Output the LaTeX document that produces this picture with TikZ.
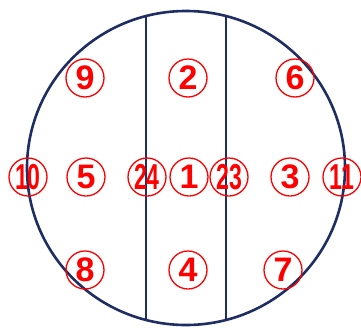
\documentclass[tikz,border=0pt]{standalone}
\usepackage{fontspec}
\setmainfont{Liberation Sans}
\usepackage{graphicx}
\definecolor{navy}{RGB}{30,45,100}
\definecolor{mark}{RGB}{255,0,0}
\newcommand{\twodig}[1]{\scalebox{0.68}[1.06]{#1}}
\begin{document}
\begin{tikzpicture}[x=1pt,y=-1pt,
  num/.style={circle,draw=mark,line width=1.3pt,text=mark,minimum size=38pt,inner sep=0pt,
    font=\fontsize{34}{34}\selectfont\bfseries},
  border/.style={draw=navy,line width=2.6pt},
  divider/.style={draw=navy,line width=2pt}]
\useasboundingbox (0,0) rectangle (361,327);
\draw[border] (186,168) ellipse [x radius=159pt, y radius=157pt];
\coordinate (lt) at (146,16.1);
\coordinate (lb) at (146,319.9);
\coordinate (rt) at (226,16.1);
\coordinate (rb) at (226,319.9);
\draw[divider] (lt) -- (lb);
\draw[divider] (rt) -- (rb);
\node[num] (n9) at (85,78) {9};
\node[num] (n2) at (188,78) {2};
\node[num] (n6) at (295,78) {6};
\node[num] (n10) at (28,177) {\twodig{10}};
\node[num] (n5) at (86,177) {5};
\node[num] (n24) at (147,177) {\twodig{24}};
\node[num] (n1) at (189,177) {1};
\node[num] (n23) at (229,177) {\twodig{23}};
\node[num] (n3) at (290,177) {3};
\node[num] (n11) at (342,177) {\twodig{11}};
\node[num] (n8) at (85,270) {8};
\node[num] (n4) at (188,270) {4};
\node[num] (n7) at (283,270) {7};
\end{tikzpicture}
\end{document}
